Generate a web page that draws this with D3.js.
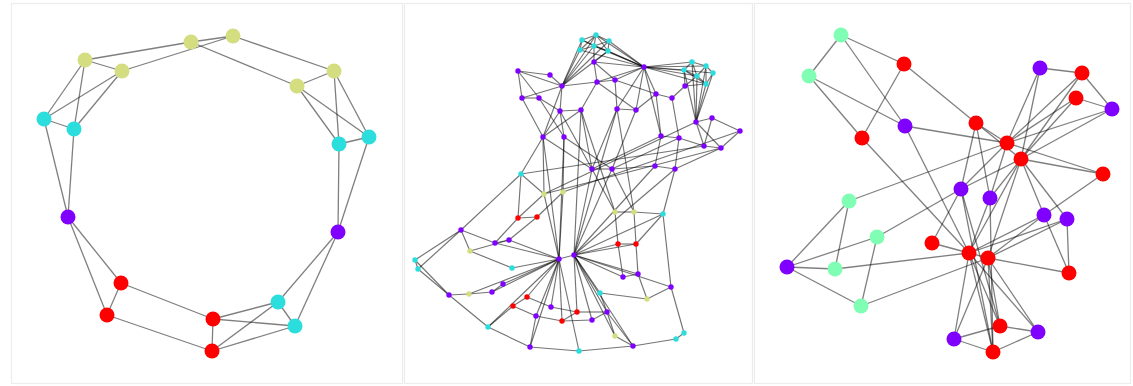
<!DOCTYPE html>
<html><head><meta charset="utf-8">
<script src="https://cdn.jsdelivr.net/npm/d3@7"></script>
<style>html,body{margin:0;padding:0;background:#fff;}svg{display:block;}</style>
</head><body>
<svg id="chart" width="1133" height="386"></svg>
<script>
// group codes: p = purple, c = cyan, y = yellow-green, g = green, r = red
const groupKeys = ["p","c","y","g","r"];
const groupColors = ["#8000ff","#2bdddd","#d4dd80","#80ffb4","#ff0000"];

// ---------- Panel 1: ring of cliques ----------
const nodes1 = [
 ["A1",85,60,"y"],["A2",122,71,"y"],["A3",191,42,"y"],["A4",233,36,"y"],["A5",334,71,"y"],["A6",297,86,"y"],
 ["C1",44,119,"c"],["C2",74,129,"c"],["C3",339,144,"c"],["C4",369,137,"c"],
 ["P1",68,217,"p"],["P2",338,232,"p"],
 ["R1",121,283,"r"],["R2",107,315,"r"],["R3",213,319,"r"],["R4",212,351,"r"],
 ["C5",278,302,"c"],["C6",295,326,"c"]
];
const edges1 = [
 ["A1","A2"],["A1","A3"],["A2","A4"],["A3","A4"],["A3","A6"],["A4","A5"],["A5","A6"],
 ["A1","C1"],["A1","C2"],["A2","C1"],["A2","C2"],["C1","C2"],["C1","P1"],["C2","P1"],
 ["A5","C3"],["A5","C4"],["A6","C3"],["A6","C4"],["C3","C4"],["C3","P2"],["C4","P2"],
 ["P1","R1"],["P1","R2"],["R1","R2"],["R1","R3"],["R2","R4"],["R3","R4"],
 ["P2","C5"],["P2","C6"],["C5","C6"],["R3","C5"],["R3","C6"],["R4","C5"],["R4","C6"]
];

// ---------- Panel 2: lattice with hubs ----------
const nodes2 = [
 ["c1",582,40,"c"],["c2",596,35,"c"],["c3",609,41,"c"],["c4",580,50,"c"],["c5",594,46,"c"],["c6",608,51,"c"],
 ["d1",692,62,"c"],["d2",706,66,"c"],["d3",713,73,"c"],["d4",684,70,"c"],["d5",697,76,"c"],["d6",706,84,"c"],
 ["H1",644,67,"p"],["p1",594,62,"p"],
 ["p2",518,71,"p"],["p3",550,75,"p"],["p4",562,86,"p"],["p5",522,98,"p"],["p6",539,98,"p"],
 ["p7",597,82,"p"],["p8",615,80,"p"],["p9",560,111,"p"],["p10",581,110,"p"],
 ["p11",617,109,"p"],["p12",636,110,"p"],["p13",656,94,"p"],["p14",672,98,"p"],["p15",685,86,"p"],
 ["p16",696,122,"p"],["p17",712,118,"p"],["p18",740,131,"p"],
 ["p19",661,136,"p"],["p20",679,138,"p"],["p21",704,146,"p"],["p22",721,148,"p"],
 ["p23",543,137,"p"],["p24",564,137,"p"],["p25",592,169,"p"],["p26",612,169,"p"],
 ["p27",655,166,"p"],["p28",675,169,"p"],
 ["c7",521,174,"c"],["y1",544,194,"y"],["y2",563,192,"y"],["y3",615,212,"y"],["y4",634,212,"y"],["c8",663,214,"c"],
 ["r1",518,218,"r"],["r2",537,217,"r"],["p29",461,230,"p"],["p30",495,243,"p"],["p31",509,240,"p"],
 ["r3",618,244,"r"],["r4",636,244,"r"],["y5",470,251,"y"],["H2",559,259,"p"],["H3",574,255,"p"],
 ["c9",415,260,"c"],["c10",418,269,"c"],["c11",512,268,"c"],["p32",623,277,"p"],["p33",638,274,"p"],
 ["p34",503,284,"p"],["p35",449,295,"p"],["y6",469,294,"y"],["p36",492,292,"p"],["c12",600,293,"c"],
 ["p37",671,287,"p"],["y7",647,299,"y"],["r5",527,297,"r"],["r6",513,306,"r"],
 ["p38",551,307,"p"],["r7",577,312,"r"],["p39",607,312,"p"],["p40",536,316,"p"],["r8",562,321,"r"],["p41",592,320,"p"],
 ["c13",488,327,"c"],["y8",615,336,"y"],["c14",684,333,"c"],["c15",676,339,"c"],
 ["p42",530,347,"p"],["c16",579,351,"c"],["p43",633,346,"p"]
];
const edges2 = [
 ["c1","c2"],["c2","c3"],["c4","c5"],["c5","c6"],["c1","c4"],["c2","c5"],["c3","c6"],["c1","c5"],["c2","c4"],["c2","c6"],["c3","c5"],
 ["c1","H1"],["c2","H1"],["c3","H1"],["c4","H1"],["c5","H1"],["c6","H1"],
 ["c1","p4"],["c2","p4"],["c3","p4"],["c4","p4"],["c5","p4"],["c6","p4"],
 ["d1","d2"],["d2","d3"],["d4","d5"],["d5","d6"],["d1","d4"],["d2","d5"],["d3","d6"],["d1","d5"],["d2","d6"],["d4","d6"],
 ["d1","H1"],["d2","H1"],["d3","H1"],["d4","H1"],["d5","H1"],["d6","H1"],
 ["d1","p16"],["d2","p16"],["d3","p16"],["d4","p16"],["d5","p16"],["d6","p16"],
 ["p15","d4"],["p15","d5"],["p15","d6"],
 ["H1","p1"],["H1","p7"],["H1","p8"],["H1","p11"],["H1","p12"],["H1","p13"],["H1","p19"],
 ["p1","p7"],["p1","p8"],["p1","c5"],["p1","c6"],
 ["p2","p3"],["p2","p5"],["p2","p6"],["p2","p4"],["p3","p4"],["p5","p6"],["p5","p4"],["p4","p7"],
 ["p4","p9"],["p7","p10"],["p8","p11"],["p7","p8"],["p9","p10"],["p7","p12"],["p8","p13"],
 ["p11","p12"],["p12","p13"],["p13","p14"],["p14","p15"],
 ["p13","p19"],["p14","p20"],["p16","p17"],["p17","p18"],["p16","p21"],["p16","p22"],["p17","p21"],["p18","p22"],["p21","p22"],
 ["p19","p20"],["p20","p21"],["p18","y2"],["p22","y1"],["p19","p25"],["p20","p26"],
 ["p25","p26"],["p26","p27"],["p27","p28"],["p19","p27"],["p20","p28"],["p22","p28"],["p28","c8"],
 ["p5","p23"],["p4","p23"],["p6","p24"],["p9","p24"],["p6","p9"],["p9","p25"],["p10","p25"],["p23","p25"],["p24","p26"],
 ["p9","p23"],["p10","p23"],["p11","p25"],["p12","p26"],["p16","y1"],["p21","c7"],["y3","p10"],["y4","p11"],
 ["c7","p23"],["c7","y1"],["c7","r1"],["c7","p29"],["p23","y1"],["p24","y2"],["r1","y1"],["r2","y2"],
 ["r1","r2"],["r1","p30"],["r2","p31"],
 ["p29","c9"],["p29","c10"],["p29","p30"],["p29","y5"],["p30","p31"],["y5","p31"],["y5","c11"],["c9","c10"],["c10","p35"],["c9","p35"],
 ["p30","H2"],["p31","H2"],["c11","H2"],["p34","H2"],["p36","H2"],["y6","p36"],["p35","y6"],["p34","p36"],
 ["p35","c13"],["c13","p42"],["c13","r6"],["r5","r6"],["r5","H2"],["r5","p38"],["r6","p40"],
 ["p38","r7"],["r7","p39"],["p40","r8"],["r8","p41"],["r7","r8"],["p39","p41"],["p42","p40"],
 ["p42","c16"],["c16","p43"],["p43","c15"],["c15","c14"],["c14","p37"],["p37","c8"],["c8","y4"],
 ["y3","y4"],["y3","r3"],["y4","r4"],["r3","r4"],["r3","H3"],["r4","H3"],["r3","p32"],["r4","p33"],["p32","p33"],
 ["p33","y7"],["p37","y7"],["y7","c12"],["c12","H3"],["p37","H3"],["p32","H3"],["p33","H3"],["c12","p39"],
 ["p43","y8"],["y8","p39"],["p39","p43"],["c8","r4"],
 ["c16","H2"],["p42","H2"],["p40","H2"],["r8","H2"],["p38","H2"],["p41","H3"],["r7","H3"],["p39","H3"],["y8","H3"],["p43","H3"],
 ["H2","y1"],["H2","y2"],["H2","p24"],["H2","p23"],["H3","p25"],["H3","p26"],["H3","p10"],["H3","p11"],["H3","p27"],["H3","p28"],["H3","c8"],
 ["H2","H3"],["p25","y3"],["p26","y4"],["H2","y6"],["H2","c13"]
];

// ---------- Panel 3: community graph ----------
const nodes3 = [
 ["G1",841,35,"g"],["G2",809,76,"g"],["R1",904,64,"r"],["R2",862,138,"r"],["P1",905,126,"p"],
 ["R3",976,123,"r"],["R4",1007,143,"r"],["R5",1021,159,"r"],["P2",1040,68,"p"],["R6",1082,73,"r"],
 ["R7",1076,98,"r"],["P3",1112,109,"p"],["R8",1103,174,"r"],["P4",961,189,"p"],["P5",990,198,"p"],
 ["P6",1044,215,"p"],["P7",1067,219,"p"],["G3",849,201,"g"],["G4",877,237,"g"],["R9",932,243,"r"],
 ["R10",969,253,"r"],["R11",988,258,"r"],["R12",1069,273,"r"],["P8",787,267,"p"],["G5",835,269,"g"],
 ["G6",861,306,"g"],["R13",1000,326,"r"],["P9",1038,332,"p"],["P10",954,339,"p"],["R14",993,352,"r"]
];
const edges3 = [
 ["G1","G2"],["G1","R1"],["G1","P1"],["G2","P1"],["G2","R2"],["R1","R2"],["R1","R3"],["P1","R4"],["P1","R10"],["R2","R10"],
 ["R3","R5"],["R3","R4"],["R3","P5"],["R3","P4"],
 ["P2","R6"],["P2","R4"],["P2","R5"],["R6","P3"],["R7","P3"],["R6","R5"],["R6","R4"],["R7","R4"],["R7","R5"],["P3","R4"],["P3","R5"],
 ["R4","R8"],["R5","R8"],["G3","R4"],["P4","R5"],["P4","R9"],["P4","R14"],["P4","R13"],["P4","R4"],
 ["P5","R5"],["P5","R10"],["P5","R14"],["P5","R4"],["R5","P6"],["R5","P7"],["R5","R11"],["R5","R10"],
 ["R8","P6"],["P7","R12"],["P6","R12"],["P6","R10"],["P6","R11"],["P7","R10"],["P7","R11"],
 ["G3","G5"],["G3","P8"],["G4","P8"],["G4","G6"],["G4","P4"],["P8","G5"],["P8","G6"],["G5","R10"],["G6","R11"],
 ["R9","R10"],["R10","R11"],["R11","R12"],["R10","R13"],["R10","P9"],["R10","P10"],["R10","R14"],
 ["R11","R13"],["R11","P9"],["R11","P10"],["R11","R14"],["P10","R13"],["P10","R14"],["R13","P9"],["R14","P9"]
];

// panel frames (layout extents)
const panels = [
 {nodes:nodes1, edges:edges1, x0:11,  x1:403,  r:7.5, op:0.5,  w:1.3},
 {nodes:nodes2, edges:edges2, x0:404, x1:753,  r:2.7, op:0.55, w:1.15},
 {nodes:nodes3, edges:edges3, x0:754, x1:1131, r:7.5, op:0.5,  w:1.3}
];
const y0 = 3, y1 = 384;

const svg = d3.select("#chart");
const color = d3.scaleOrdinal().domain(groupKeys).range(groupColors);

panels.forEach(P => {
  const x = d3.scaleLinear().domain([P.x0, P.x1]).range([P.x0, P.x1]);
  const y = d3.scaleLinear().domain([y0, y1]).range([y0, y1]);
  const g = svg.append("g");
  g.append("rect").attr("x", x(P.x0)+0.5).attr("y", y(y0)+0.5)
    .attr("width", x(P.x1)-x(P.x0)-1).attr("height", y(y1)-y(y0)-1)
    .attr("fill","#fff").attr("stroke","#ececec").attr("stroke-width",1.2);
  const byId = new Map(P.nodes.map(n => [n[0], n]));
  g.append("g").selectAll("line").data(P.edges).join("line")
    .attr("x1", e => x(byId.get(e[0])[1])).attr("y1", e => y(byId.get(e[0])[2]))
    .attr("x2", e => x(byId.get(e[1])[1])).attr("y2", e => y(byId.get(e[1])[2]))
    .attr("stroke", "#000").attr("stroke-opacity", P.op).attr("stroke-width", P.w);
  g.append("g").selectAll("circle").data(P.nodes).join("circle")
    .attr("cx", n => x(n[1])).attr("cy", n => y(n[2])).attr("r", P.r)
    .attr("fill", n => color(n[3]));
});
</script>
</body></html>
